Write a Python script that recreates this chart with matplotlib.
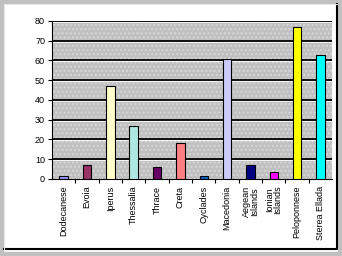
import matplotlib
matplotlib.use("Agg")
import matplotlib.pyplot as plt
from matplotlib.patches import Rectangle
from matplotlib.lines import Line2D

# ===================== Data =====================
REGIONS = ["Dodecanese", "Evoia", "Iperus", "Thessalia", "Thrace", "Creta",
           "Cyclades", "Macedonia", "Aegean\nIslands", "Ionian\nIslands",
           "Peloponnese", "Sterea Ellada"]
VALUES = [1.5, 7, 47, 27, 6, 18, 1.5, 60.5, 7, 3.5, 77, 63]
COLORS = ["#9999ff", "#993366", "#ffffcc", "#aee8e0", "#660066", "#ff8080",
          "#0066cc", "#ccccff", "#000080", "#ff00ff", "#ffff00", "#00ffff"]
Y_TICKS = [0, 10, 20, 30, 40, 50, 60, 70, 80]

FONT = "Liberation Sans"

fig = plt.figure(figsize=(3.42, 2.56), dpi=100)
fig.patch.set_facecolor("white")

# frame round the chart: gray outside, dark bevel at bottom/right
fig.patches.append(Rectangle((0, 0), 1, 1, transform=fig.transFigure,
                             facecolor="none", edgecolor="#c0c0c0", linewidth=6))
fig.lines.append(Line2D([0.011, 0.986, 0.986], [0.028, 0.028, 0.985],
                        transform=fig.transFigure, color="black", linewidth=1.5))
fig.lines.append(Line2D([0.011, 0.011, 0.986], [0.028, 0.986, 0.986],
                        transform=fig.transFigure, color="#e8e8e8", linewidth=0.8))

ax = fig.add_axes([0.152, 0.301, 0.819, 0.617])
ax.set_facecolor("#c0c0c0")
ax.patch.set_hatch("....")
ax.patch.set_edgecolor("#d8d8d8")
ax.patch.set_linewidth(0)

x = list(range(len(REGIONS)))
ax.bar(x, VALUES, width=0.36, color=COLORS, edgecolor="black", linewidth=0.8, zorder=3)

ax.set_xlim(-0.5, len(REGIONS) - 0.5)
ax.set_ylim(0, 80)
ax.set_yticks(Y_TICKS)
ax.set_yticklabels([str(v) for v in Y_TICKS], fontsize=6.5, family=FONT)
for v in Y_TICKS[1:]:
    ax.axhline(v, color="black", linewidth=1.3, zorder=1)
    ax.axhline(v - 0.4, color="white", linewidth=0.6, zorder=1)

ax.set_xticks([i + 0.5 for i in x[:-1]], minor=False)
ax.set_xticklabels([])
ax.tick_params(axis="x", length=3, width=0.8, direction="out")
ax.tick_params(axis="y", length=3, width=0.8, pad=2)
for i, name in enumerate(REGIONS):
    ax.text(i, -3.5, name, rotation=90, ha="center", va="top", fontsize=6.5,
            family=FONT, linespacing=0.8, transform=ax.transData)

for side in ["top", "right"]:
    ax.spines[side].set_visible(False)
ax.spines["left"].set_linewidth(0.8)
ax.spines["bottom"].set_linewidth(0.8)

fig.savefig("out.png", dpi=100)
